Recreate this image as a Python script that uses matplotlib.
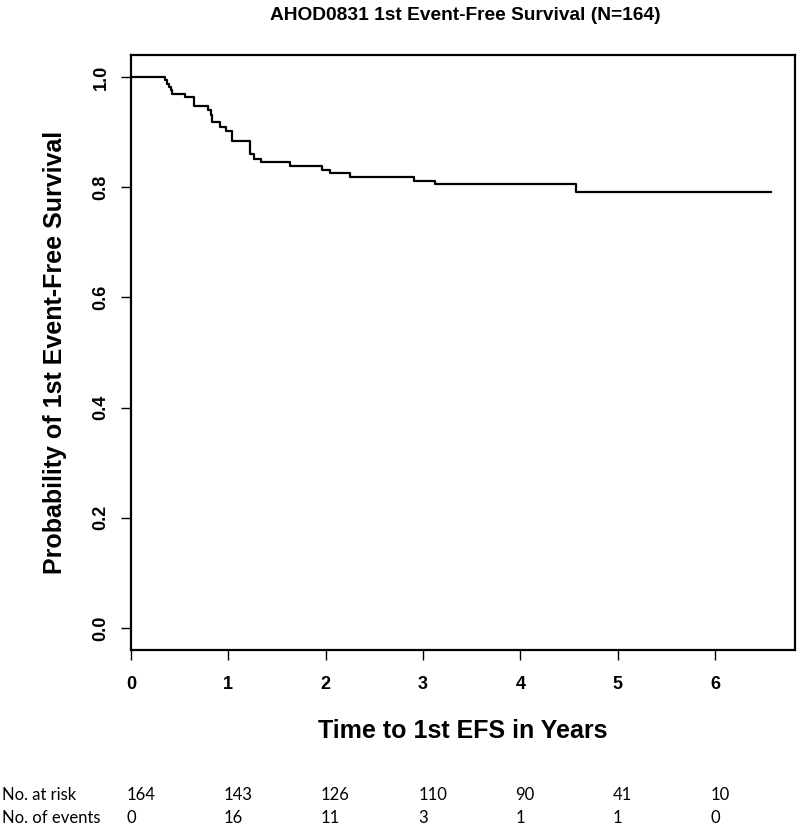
import matplotlib
matplotlib.use("Agg")
import matplotlib.pyplot as plt
import matplotlib.transforms as mtransforms

# Kaplan-Meier step points (years, survival after the step)
event_times = [0.0, 0.35, 0.37, 0.39, 0.41, 0.42, 0.555, 0.65, 0.795, 0.82, 0.835,
               0.915, 0.98, 1.04, 1.22, 1.26, 1.34, 1.63, 1.96, 2.04, 2.25,
               2.91, 3.12, 4.57, 6.57]
survival = [1.0, 0.994, 0.988, 0.982, 0.976, 0.969, 0.963, 0.947, 0.940, 0.931, 0.919,
            0.910, 0.902, 0.884, 0.861, 0.852, 0.845, 0.839, 0.832, 0.826, 0.819,
            0.811, 0.805, 0.791, 0.791]

table_years = [0, 1, 2, 3, 4, 5, 6]
at_risk = [164, 143, 126, 110, 90, 41, 10]
n_events = [0, 16, 11, 3, 1, 1, 0]

title = "AHOD0831 1st Event-Free Survival (N=164)"
xlabel = "Time to 1st EFS in Years"
ylabel = "Probability of 1st Event-Free Survival"

plt.rcParams['font.family'] = ['Liberation Sans', 'DejaVu Sans']

W, H = 800, 826
fig = plt.figure(figsize=(W / 100, H / 100), dpi=100)
ax = fig.add_axes([131 / W, 1 - 650 / H, (795 - 131) / W, (650 - 55) / H])

ax.step(event_times, survival, where='post', color='black', linewidth=1.6)

ax.set_xlim(0, 6.82)
ax.set_ylim(-0.04, 1.04)
ax.set_xticks(table_years)
ax.set_yticks([0.0, 0.2, 0.4, 0.6, 0.8, 1.0])
ax.set_yticklabels(["0.0", "0.2", "0.4", "0.6", "0.8", "1.0"], rotation=90, va='center')
for s in ax.spines.values():
    s.set_linewidth(1.6)
ax.tick_params(axis='both', direction='out', length=7.5, width=1, labelsize=13)
ax.tick_params(axis='x', pad=11)
ax.tick_params(axis='y', pad=8)
for lab in ax.get_xticklabels() + ax.get_yticklabels():
    lab.set_fontweight('bold')

fig.text(463 / W, 1 - 731 / H, xlabel, ha='center', va='center', fontsize=18, fontweight='bold')
fig.text(55 / W, 1 - 352 / H, ylabel, ha='center', va='center', rotation=90,
         fontsize=18, fontweight='bold')
fig.text(465 / W, 1 - 16 / H, title, ha='center', va='center', fontsize=13.8, fontweight='bold')

# number-at-risk table below the plot
trans = mtransforms.blended_transform_factory(ax.transData, fig.transFigure)
row_y = [1 - 795 / H, 1 - 818 / H]
tfont = ['Lato', 'DejaVu Sans']
fig.text(0.002, row_y[0], "No. at risk", ha='left', va='center', fontsize=12, family=tfont)
fig.text(0.002, row_y[1], "No. of events", ha='left', va='center', fontsize=12, family=tfont)
for yr, r, e in zip(table_years, at_risk, n_events):
    ax.text(yr - 0.05, row_y[0], str(r), transform=trans, ha='left', va='center',
            fontsize=12, family=tfont, clip_on=False)
    ax.text(yr - 0.05, row_y[1], str(e), transform=trans, ha='left', va='center',
            fontsize=12, family=tfont, clip_on=False)

fig.savefig("out.png", dpi=100)
